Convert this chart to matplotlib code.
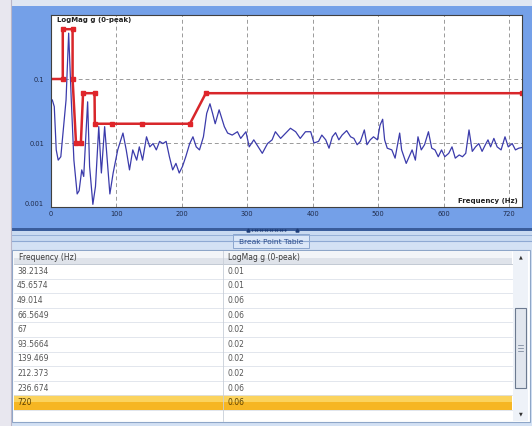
import numpy as np
import matplotlib.pyplot as plt
from matplotlib.patches import Rectangle
from matplotlib.ticker import NullLocator

spec_freq = [2, 5, 8, 11, 15, 23, 27, 31, 35, 40,
             43, 47, 50, 56, 59, 64, 68, 73, 77, 82,
             90, 95, 102, 110, 115, 120, 125, 131, 135, 140,
             146, 151, 156, 161, 166, 171, 176, 181, 186, 191,
             196, 201, 206, 212, 217, 222, 227, 233, 238, 243,
             247, 251, 257, 265, 270, 277, 285, 290, 298, 303,
             310, 318, 323, 331, 338, 343, 351, 359, 366, 374,
             381, 389, 397, 402, 409, 414, 420, 425, 430, 435,
             440, 445, 452, 458, 463, 468, 473, 479, 483, 488,
             493, 499, 503, 507, 510, 514, 521, 526, 533, 536,
             543, 552, 557, 561, 566, 571, 577, 582, 587, 592,
             597, 602, 608, 613, 618, 624, 629, 634, 639, 644,
             649, 654, 659, 664, 668, 672, 677, 682, 688, 694,
             699, 705, 710, 715, 720]
spec_mag = [0.047, 0.037, 0.0078, 0.0054, 0.0061, 0.047, 0.52, 0.047, 0.0054, 0.0016,
            0.0018, 0.0038, 0.0030, 0.044, 0.0043, 0.0011, 0.0021, 0.018, 0.0034, 0.018,
            0.0016, 0.0034, 0.0078, 0.0143, 0.0078, 0.0038, 0.0078, 0.0054, 0.0087, 0.0054,
            0.0125, 0.0087, 0.0098, 0.0078, 0.0106, 0.0098, 0.0106, 0.0061, 0.0038, 0.0048,
            0.0034, 0.0043, 0.0061, 0.0098, 0.0125, 0.0087, 0.0078, 0.0125, 0.029, 0.041,
            0.029, 0.020, 0.033, 0.018, 0.0143, 0.0133, 0.015, 0.0118, 0.015, 0.0087,
            0.0112, 0.0083, 0.0069, 0.0098, 0.0112, 0.015, 0.0118, 0.0143, 0.017, 0.015,
            0.0118, 0.015, 0.015, 0.010, 0.0106, 0.0133, 0.0112, 0.0083, 0.0125, 0.0145,
            0.0112, 0.0133, 0.0156, 0.0125, 0.0118, 0.0094, 0.0106, 0.016, 0.0094, 0.0112,
            0.0125, 0.0112, 0.019, 0.0235, 0.0112, 0.0083, 0.0078, 0.0058, 0.0143, 0.0078,
            0.0048, 0.0078, 0.0054, 0.0125, 0.0078, 0.0094, 0.015, 0.0083, 0.0078, 0.0061,
            0.0078, 0.0061, 0.0069, 0.0087, 0.0058, 0.0065, 0.0061, 0.0069, 0.016, 0.0074,
            0.0087, 0.0098, 0.0074, 0.0094, 0.0112, 0.0087, 0.0118, 0.0087, 0.0078, 0.0125,
            0.0087, 0.0098, 0.0078, 0.0083, 0.0085]

# break point profile (first points are above the visible table rows, estimated)
bp_freq = [0, 18, 18, 33, 33, 38.2134, 45.6574, 49.014, 66.5649, 67, 93.5664, 139.469, 212.373, 236.674, 720]
bp_mag = [0.1, 0.1, 0.6, 0.6, 0.1, 0.01, 0.01, 0.06, 0.06, 0.02, 0.02, 0.02, 0.02, 0.06, 0.06]

x_ticks = [0, 100, 200, 300, 400, 500, 600, 700]
x_tick_labels = ['0', '100', '200', '300', '400', '500', '600', '720']
y_ticks = [0.001, 0.01, 0.1]
y_tick_labels = ['0.001', '0.01', '0.1']

table_header = ['Frequency (Hz)', 'LogMag g (0-peak)']
table_freq = ['38.2134', '45.6574', '49.014', '66.5649', '67', '93.5664', '139.469', '212.373', '236.674', '720']
table_mag = ['0.01', '0.01', '0.06', '0.06', '0.02', '0.02', '0.02', '0.02', '0.06', '0.06']
selected_row = 9

W, H = 532, 426
fig = plt.figure(figsize=(W / 100, H / 100), dpi=100)

# background layer in pixel coordinates
bg = fig.add_axes([0, 0, 1, 1])
bg.set_xlim(0, W)
bg.set_ylim(H, 0)
bg.axis('off')


def box(x, y, w, h, **kw):
    bg.add_patch(Rectangle((x, y), w, h, **kw))


box(0, 0, W, H, fc='#dfe6f2', lw=0)
box(0, 0, 12, H, fc='#e8e7ef', lw=0)
bg.plot([11, 11], [0, H], color='#b9b6c9', lw=0.8)
box(12, 6, W - 12, 222, fc='#74a0e8', lw=0)
box(12, 228, W - 12, 3, fc='#3a5d9c', lw=0)
box(12, 231, W - 12, 10, fc='#c9daf1', lw=0)
bg.plot([12, W], [235, 235], color='#8ea9d3', lw=0.6)
bg.plot([12, W], [241, 241], color='#8ea9d3', lw=0.8)
box(12, 241, W - 12, H - 241, fc='#d3e1f4', lw=0)

# splitter grip
bg.plot(np.arange(252, 286, 2.5), [229.5] * len(np.arange(252, 286, 2.5)), 's', color='#1d3c78', ms=0.6)
bg.plot([248, 297], [229.5, 229.5], '^', color='#1d3c78', ms=2.2)

# tab label
box(233, 234, 76, 14, fc='#dbe7f8', ec='#7f9cc8', lw=0.6)
bg.text(271, 241.5, 'Break Point Table', fontsize=5.4, color='#2a4a8a', ha='center', va='center')

# table
t_left, t_right, col_x = 14, 512, 223
head_top, head_h = 251, 13
row_top, row_h = 264, 14.6
box(12, 250, 518, 172, fc='white', ec='#8ea6c8', lw=0.8)
box(t_left, head_top, t_right - t_left, head_h / 2, fc='#f3f5f8', lw=0)
box(t_left, head_top + head_h / 2, t_right - t_left, head_h / 2, fc='#dfe3ea', lw=0)
bg.plot([t_left, t_right], [row_top, row_top], color='#b8c0cc', lw=0.6)
bg.text(19, head_top + head_h / 2, table_header[0], fontsize=5.5, color='#3a3a3a', va='center')
bg.text(228, head_top + head_h / 2, table_header[1], fontsize=5.5, color='#3a3a3a', va='center')

for i, (f, m) in enumerate(zip(table_freq, table_mag)):
    y0 = row_top + i * row_h
    if i == selected_row:
        box(t_left, y0, t_right - t_left, row_h * 0.45, fc='#fbd35e', lw=0)
        box(t_left, y0 + row_h * 0.45, t_right - t_left, row_h * 0.55, fc='#f6b623', lw=0)
    bg.plot([t_left, t_right], [y0 + row_h, y0 + row_h], color='#dde2ea', lw=0.6)
    txt_col = '#5a4000' if i == selected_row else '#555555'
    bg.text(17, y0 + row_h / 2, f, fontsize=5.5, color=txt_col, va='center')
    bg.text(227, y0 + row_h / 2, m, fontsize=5.5, color=txt_col, va='center')

bg.plot([col_x, col_x], [head_top, 421], color='#c8ced8', lw=0.6)

# scrollbar
box(513, 251, 15, 170, fc='#eef2f8', lw=0)
box(515, 308, 11, 80, fc='#e1e6ee', ec='#6c7a90', lw=0.8)
for gy in (345, 348, 351):
    bg.plot([518, 523], [gy, gy], color='#6c7a90', lw=0.5)
bg.text(520.5, 257, '\u25b2', fontsize=3.5, color='#333333', ha='center', va='center')
bg.text(520.5, 414, '\u25bc', fontsize=3.5, color='#333333', ha='center', va='center')

# spectrum plot
ax = fig.add_axes([51 / W, 1 - 207 / H, 471 / W, 192 / H])
ax.set_facecolor('white')
ax.plot(spec_freq, spec_mag, color='#3b3bab', lw=0.9)
ax.plot(bp_freq, bp_mag, color='#d8262a', lw=1.8)
ax.plot(bp_freq[1:], bp_mag[1:], 's', color='#e0252a', ms=3.5)
ax.set_yscale('log')
ax.set_xlim(0, 720)
ax.set_ylim(0.001, 1)
ax.set_xticks(x_ticks, x_tick_labels)
ax.set_yticks(y_ticks, y_tick_labels)
ax.yaxis.set_minor_locator(NullLocator())
ax.grid(True, color='#9a9a9a', ls=(0, (4, 3)), lw=0.7)
ax.tick_params(axis='both', length=0, labelsize=4.8, colors='#1f2b4a')
ax.tick_params(axis='y', pad=5)
ax.tick_params(axis='x', pad=3)
ax.get_yticklabels()[0].set_va('bottom')
for s in ax.spines.values():
    s.set_color('#404040')
    s.set_linewidth(0.8)

ax.text(0.013, 0.99, 'LogMag g (0-peak)', transform=ax.transAxes, fontsize=5,
        fontweight='bold', color='#202020', va='top', ha='left')
ax.text(0.991, 0.031, 'Frequency (Hz)', transform=ax.transAxes, fontsize=5,
        fontweight='bold', color='#202020', va='center', ha='right')

fig.savefig('out.png', dpi=100)
